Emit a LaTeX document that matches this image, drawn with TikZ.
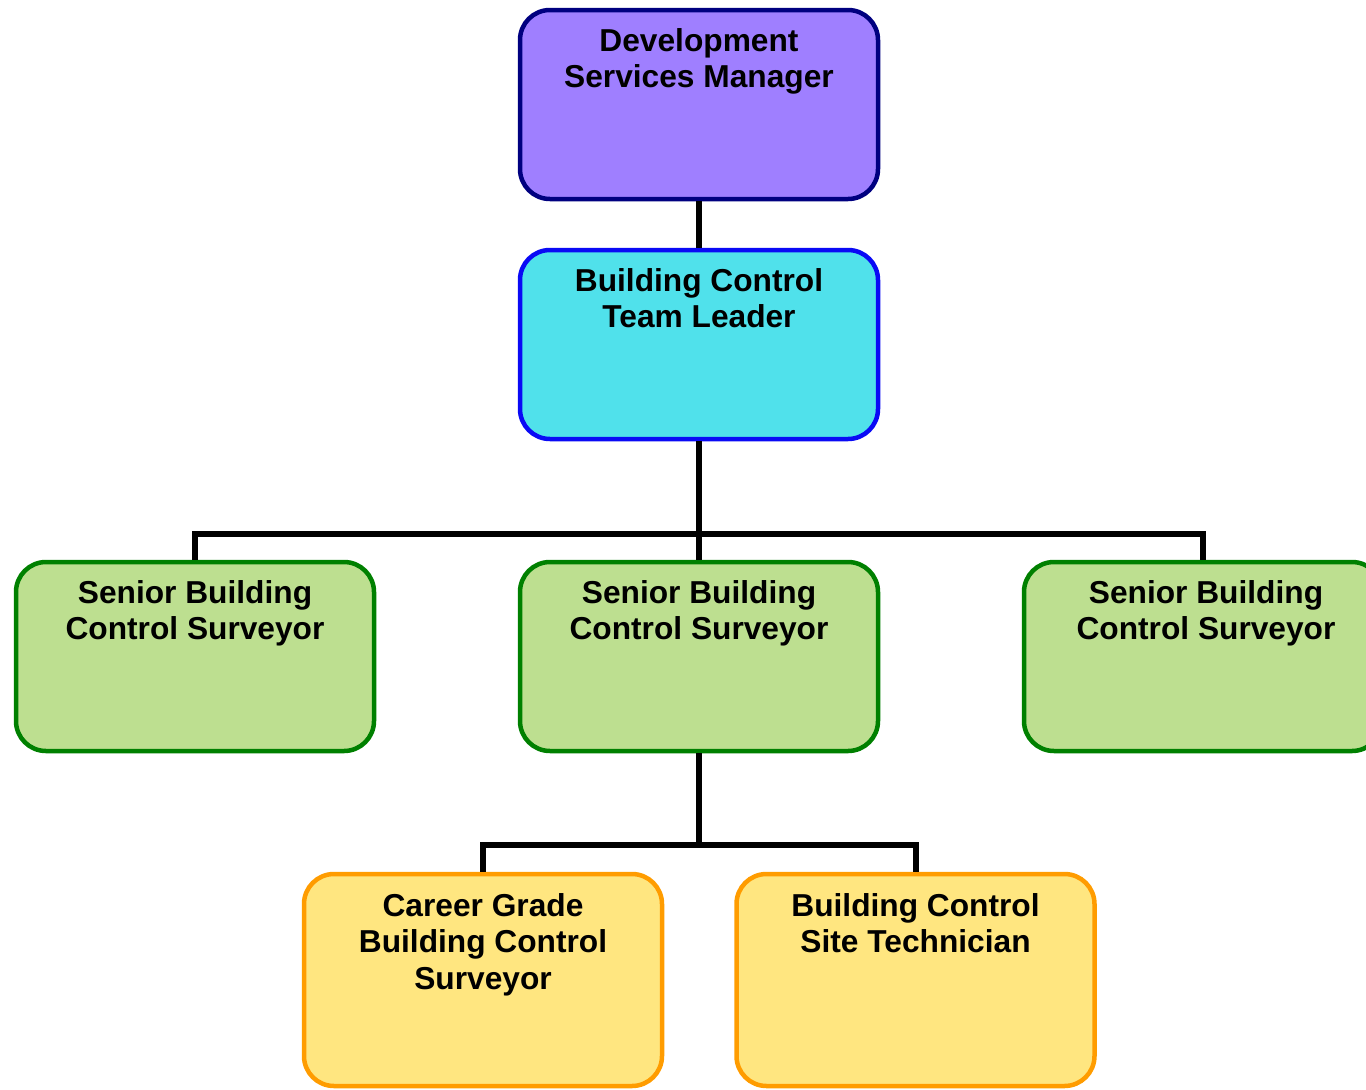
\documentclass[tikz,border=0pt]{standalone}
\usepackage{fontspec}
\setmainfont{Liberation Sans}
\definecolor{dsmfill}{HTML}{9F7FFF}
\definecolor{dsmdraw}{HTML}{000080}
\definecolor{tlfill}{HTML}{50E1EB}
\definecolor{tldraw}{HTML}{0A0AF5}
\definecolor{sfill}{HTML}{BDDF90}
\definecolor{sdraw}{HTML}{008000}
\definecolor{jfill}{HTML}{FFE680}
\definecolor{jdraw}{HTML}{FF9C00}
\tikzset{
  box/.style={draw, line width=4.5pt, rounded corners=30pt, minimum width=358pt, inner sep=0pt},
  dsmbox/.style={box, fill=dsmfill, draw=dsmdraw, minimum height=189pt},
  tlbox/.style={box, fill=tlfill, draw=tldraw, minimum height=189pt},
  sbox/.style={box, fill=sfill, draw=sdraw, minimum height=189pt},
  jbox/.style={box, fill=jfill, draw=jdraw, minimum height=212pt},
  lbl/.style={anchor=north, inner sep=0pt, align=center, font=\fontsize{31.7}{36.8}\selectfont\bfseries},
  conn/.style={line width=6pt, black, line join=miter}
}
\begin{document}
\begin{tikzpicture}[x=1pt, y=-1pt]
\useasboundingbox (0,0) rectangle (1366,1090);
\clip (0,0) rectangle (1366,1090);
\node[dsmbox] (dsm) at (699,104.5) {};
\node[tlbox] (tl) at (699,344.5) {};
\node[sbox] (s1) at (195,656.5) {};
\node[sbox] (s2) at (699,656.5) {};
\node[sbox] (s3) at (1203,656.5) {};
\node[jbox] (c1) at (483,980) {};
\node[jbox] (c2) at (915.5,980) {};
\coordinate (j1) at (699,534);
\coordinate (j2) at (699,845);
\draw[conn] (dsm.south) -- (tl.north);
\draw[conn] (tl.south) -- (s2.north);
\draw[conn] (s1.north) |- (j1) -| (s3.north);
\draw[conn] (s2.south) -- (j2);
\draw[conn] (c1.north) |- (j2) -| (c2.north);
\node[lbl] (t0) at (699,28) {Development\\Services Manager};
\node[lbl] (t1) at (699,268) {Building Control\\Team Leader};
\node[lbl] (t2) at (195,580) {Senior Building\\Control Surveyor};
\node[lbl] (t3) at (699,580) {Senior Building\\Control Surveyor};
\node[lbl] (t4) at (1206,580) {Senior Building\\Control Surveyor};
\node[lbl] (t5) at (483,893) {Career Grade\\Building Control\\Surveyor};
\node[lbl] (t6) at (915.5,893) {Building Control\\Site Technician};
\end{tikzpicture}
\end{document}
